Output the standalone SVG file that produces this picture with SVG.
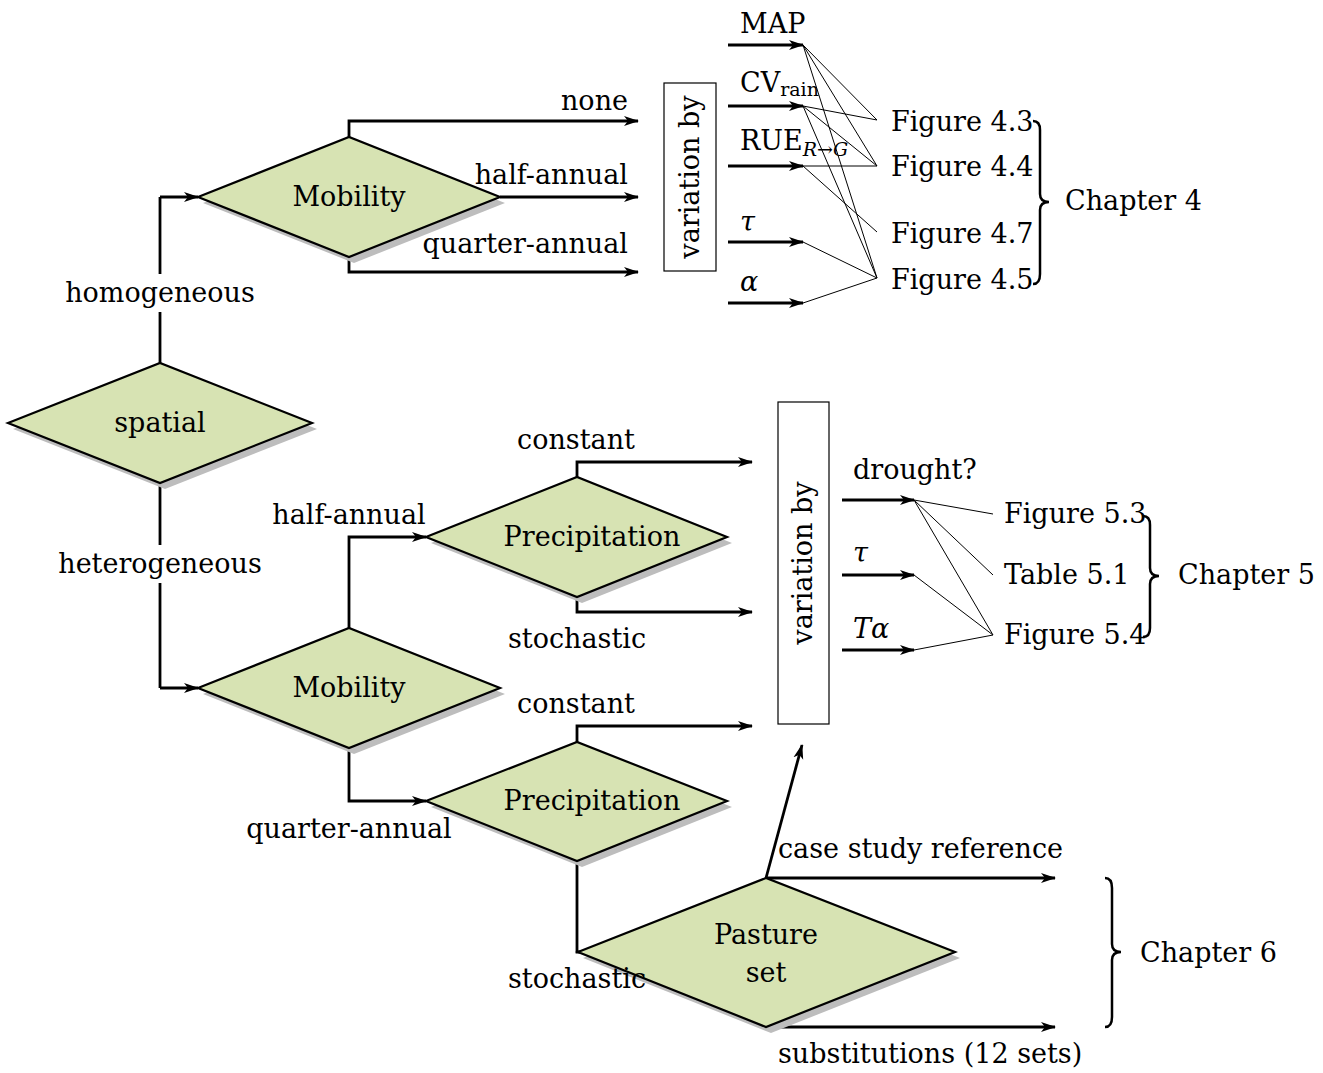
<svg xmlns="http://www.w3.org/2000/svg" width="1323" height="1073" viewBox="0 0 1323 1073">
<defs>
<marker id="arr" markerUnits="userSpaceOnUse" markerWidth="16" markerHeight="12" viewBox="0 0 16 12" refX="14" refY="6" orient="auto">
<path d="M0,1 L15,6 L0,11 L4,6 z" fill="#000"/>
</marker>
</defs>
<style>
text{font-family:"DejaVu Serif","Liberation Serif",serif;font-size:27px;fill:#000}
.c{text-anchor:middle}
.e{text-anchor:end}
.d{fill:#d7e3b3;stroke:#000;stroke-width:2.2;stroke-linejoin:miter}
.s{fill:#bdbdbd;stroke:none}
.ln{fill:none;stroke:#000;stroke-width:2.8}
.ar{fill:none;stroke:#000;stroke-width:2.8;marker-end:url(#arr)}
.th{fill:none;stroke:#000;stroke-width:1}
.br{fill:none;stroke:#000;stroke-width:2.5}
.bx{fill:#fff;stroke:#000;stroke-width:1.2}
.it{font-style:italic}
.bg{fill:#fff}
</style>

<g id="connectors">
<path class="ln" d="M160,363 V197"/>
<path class="ar" d="M160,197 H198"/>
<path class="ln" d="M160,483 V688"/>
<path class="ar" d="M160,688 H198"/>
<path class="ar" d="M349,137 V121 H638"/>
<path class="ar" d="M500,197 H638"/>
<path class="ar" d="M349,256 V272 H638"/>
<path class="ar" d="M349,628 V537 H426"/>
<path class="ar" d="M349,748 V801 H426"/>
<path class="ar" d="M577,477 V462 H752"/>
<path class="ar" d="M577,597 V612 H752"/>
<path class="ar" d="M577,742 V726 H752"/>
<path class="ln" d="M577,861 V952 H582"/>
<path class="ar" d="M766,878 L802,745"/>
<path class="ar" d="M766,878 H1055"/>
<path class="ar" d="M766,1027 H1055"/>
<path class="ar" d="M728,45 H803"/>
<path class="ar" d="M728,106 H803"/>
<path class="ar" d="M728,166 H803"/>
<path class="ar" d="M728,242 H803"/>
<path class="ar" d="M728,303 H803"/>
<path class="th" d="M803,45 L877,120 M803,45 L877,166 M803,45 L877,278 M803,106 L877,120 M803,106 L877,166 M803,106 L877,278 M803,166 L877,166 M803,166 L877,232 M803,242 L877,278 M803,303 L877,278"/>
<path class="ar" d="M842,500 H914"/>
<path class="ar" d="M842,575 H914"/>
<path class="ar" d="M842,650 H914"/>
<path class="th" d="M914,500 L993,514 M914,500 L993,575 M914,500 L993,635 M914,575 L993,635 M914,650 L993,635"/>
<path class="br" d="M1033,121 Q1040,121 1040,130 L1040,194 Q1040,202 1049,202 Q1040,202 1040,210 L1040,274 Q1040,284 1033,284"/>
<path class="br" d="M1143,516 Q1150,516 1150,525 L1150,568 Q1150,576 1159,576 Q1150,576 1150,584 L1150,628 Q1150,637 1143,637"/>
<path class="br" d="M1105,878 Q1112,878 1112,888 L1112,944 Q1112,952 1121,952 Q1112,952 1112,960 L1112,1017 Q1112,1027 1105,1027"/>
</g>

<g id="spatial">
<polygon class="s" points="13,429 165,369 317,429 165,489"/>
<polygon class="d" points="8,423 160,363 312,423 160,483"/>
<text class="c" x="160" y="432">spatial</text>
</g>
<g id="mobility1">
<polygon class="s" points="203,203 354,143 505,203 354,263"/>
<polygon class="d" points="198,197 349,137 500,197 349,257"/>
<text class="c" x="349" y="206">Mobility</text>
</g>
<g id="mobility2">
<polygon class="s" points="203,694 354,634 505,694 354,754"/>
<polygon class="d" points="198,688 349,628 500,688 349,748"/>
<text class="c" x="349" y="697">Mobility</text>
</g>
<g id="precip1">
<polygon class="s" points="431,543 582,483 732,543 582,603"/>
<polygon class="d" points="426,537 577,477 727,537 577,597"/>
<text class="c" x="592" y="546">Precipitation</text>
</g>
<g id="precip2">
<polygon class="s" points="431,807 582,748 732,807 582,867"/>
<polygon class="d" points="426,801 577,742 727,801 577,861"/>
<text class="c" x="592" y="810">Precipitation</text>
</g>
<g id="pasture">
<polygon class="s" points="583,958 771,884 960,958 771,1033"/>
<polygon class="d" points="578,952 766,878 955,952 766,1027"/>
<text class="c" x="766" y="944">Pasture</text>
<text class="c" x="766" y="982">set</text>
</g>
<g id="varby1">
<rect class="bx" x="664" y="83" width="52" height="188"/>
<text class="c" transform="translate(699,177) rotate(-90)">variation by</text>
</g>
<g id="varby2">
<rect class="bx" x="778" y="402" width="51" height="322"/>
<text class="c" transform="translate(812,563) rotate(-90)">variation by</text>
</g>

<g id="labels">
<rect class="bg" x="60" y="274" width="200" height="38"/>
<text class="c" x="160" y="302">homogeneous</text>
<rect class="bg" x="55" y="545" width="210" height="38"/>
<text class="c" x="160" y="573">heterogeneous</text>
<text class="e" x="628" y="110">none</text>
<text class="e" x="628" y="184">half-annual</text>
<text class="e" x="628" y="253">quarter-annual</text>
<text class="c" x="349" y="524">half-annual</text>
<text class="c" x="349" y="838">quarter-annual</text>
<text class="c" x="576" y="449">constant</text>
<text class="c" x="577" y="648">stochastic</text>
<text class="c" x="576" y="713">constant</text>
<text class="c" x="577" y="988">stochastic</text>
<text x="778" y="858">case study reference</text>
<text x="778" y="1063">substitutions (12 sets)</text>
<text x="740" y="33">MAP</text>
<text x="740" y="92">CV<tspan font-size="19" dy="4">rain</tspan></text>
<text x="740" y="150">RUE<tspan font-size="19" dy="6" class="it">R</tspan><tspan font-size="19">→</tspan><tspan font-size="19" class="it">G</tspan></text>
<text x="740" y="231" class="it" font-size="22">τ</text>
<text x="740" y="291" class="it" font-size="22">α</text>
<text x="891" y="131">Figure 4.3</text>
<text x="891" y="176">Figure 4.4</text>
<text x="891" y="243">Figure 4.7</text>
<text x="891" y="289">Figure 4.5</text>
<text x="1065" y="210">Chapter 4</text>
<text x="853" y="479">drought?</text>
<text x="853" y="562" class="it" font-size="22">τ</text>
<text x="853" y="638" class="it">Tα</text>
<text x="1004" y="523">Figure 5.3</text>
<text x="1004" y="584">Table 5.1</text>
<text x="1004" y="644">Figure 5.4</text>
<text x="1178" y="584">Chapter 5</text>
<text x="1140" y="962">Chapter 6</text>
</g>
</svg>
